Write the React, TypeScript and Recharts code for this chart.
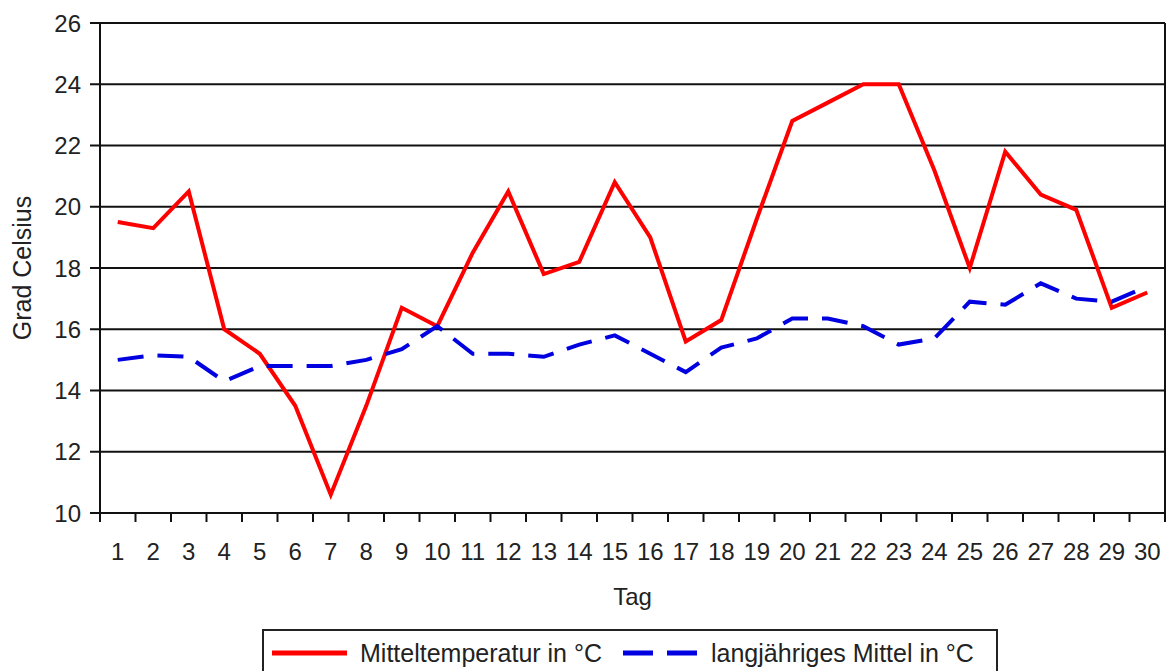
import {
  CartesianGrid,
  Legend,
  Line,
  LineChart,
  ReferenceLine,
  XAxis,
  YAxis,
} from "recharts";

// Tage des Monats
const days = [
  1, 2, 3, 4, 5, 6, 7, 8, 9, 10, 11, 12, 13, 14, 15, 16, 17, 18, 19, 20, 21,
  22, 23, 24, 25, 26, 27, 28, 29, 30,
];

// Mitteltemperatur in °C
const meanTemp = [
  19.5, 19.3, 20.5, 16.0, 15.2, 13.5, 10.6, 13.5, 16.7, 16.1, 18.5, 20.5, 17.8,
  18.2, 20.8, 19.0, 15.6, 16.3, 19.6, 22.8, 23.4, 24.0, 24.0, 21.2, 18.0, 21.8,
  20.4, 19.9, 16.7, 17.2,
];

// langjähriges Mittel in °C
const longTermMean = [
  15.0, 15.15, 15.1, 14.3, 14.8, 14.8, 14.8, 15.0, 15.35, 16.1, 15.2, 15.2,
  15.1, 15.5, 15.8, 15.2, 14.6, 15.4, 15.7, 16.35, 16.35, 16.1, 15.5, 15.7,
  16.9, 16.8, 17.5, 17.0, 16.9, 17.4,
];

const yTicks = [10, 12, 14, 16, 18, 20, 22, 24, 26];

const data = days.map((day, i) => ({
  day,
  mean: meanTemp[i],
  longTerm: longTermMean[i],
}));

const FONT = '"Liberation Sans", Arial, sans-serif';
const TEXT = "#222";
const RED = "#ff0000";
const BLUE = "#0000e0";
const PLOT_W = 1065;
const STEP = PLOT_W / days.length;

// x-axis tick: label in the middle, tick marks on the category boundaries
const DayTick = (props: any) => {
  const { x, y, payload, index } = props;
  const left = x - STEP / 2;
  const right = x + STEP / 2;
  return (
    <g>
      <line x1={left} y1={y} x2={left} y2={y + 9} stroke="#111" strokeWidth={2} />
      {index === days.length - 1 && (
        <line x1={right} y1={y} x2={right} y2={y + 9} stroke="#111" strokeWidth={2} />
      )}
      <text
        x={x}
        y={y + 47}
        textAnchor="middle"
        fontFamily={FONT}
        fontSize={24}
        fill={TEXT}
      >
        {payload.value}
      </text>
    </g>
  );
};

const LegendBox = ({ payload }: any) => {
  const items = payload || [];
  return (
    <svg width={736} height={60} style={{ display: "block" }}>
      <rect x={1} y={1} width={734} height={70} fill="#fff" stroke="#222" strokeWidth={2} />
      {items.map((item: any, i: number) => {
        const x0 = i === 0 ? 10 : 361;
        const dashed = i === 1;
        return (
          <g key={item.value}>
            <line
              x1={x0}
              y1={24}
              x2={x0 + 75}
              y2={24}
              stroke={item.color}
              strokeWidth={5}
              strokeDasharray={dashed ? "30 14" : undefined}
            />
            <text
              x={x0 + 88}
              y={33}
              fontFamily={FONT}
              fontSize={25}
              fill={TEXT}
            >
              {item.value}
            </text>
          </g>
        );
      })}
    </svg>
  );
};

export default function App() {
  return (
    <div style={{ position: "absolute", left: 0, top: 0, background: "#fff" }}>
      <LineChart
        width={1169}
        height={671}
        data={data}
        margin={{ top: 23, right: 4, bottom: 0, left: 0 }}
      >
        <CartesianGrid
          vertical={false}
          stroke="#111"
          strokeWidth={2}
          horizontalValues={yTicks}
        />
        <XAxis
          dataKey="day"
          type="number"
          domain={[0.5, 30.5]}
          ticks={days}
          interval={0}
          height={158}
          tickLine={false}
          tickSize={0}
          tickMargin={0}
          axisLine={{ stroke: "#111", strokeWidth: 2 }}
          tick={<DayTick />}
          label={{
            content: ({ viewBox }: any) => (
              <text
                x={viewBox.x + viewBox.width / 2}
                y={viewBox.y + 92}
                textAnchor="middle"
                fontFamily={FONT}
                fontSize={24}
                fill={TEXT}
              >
                Tag
              </text>
            ),
          }}
        />
        <YAxis
          domain={[10, 26]}
          ticks={yTicks}
          interval={0}
          width={100}
          tickSize={10}
          tickMargin={9}
          axisLine={{ stroke: "#111", strokeWidth: 2 }}
          tickLine={{ stroke: "#111", strokeWidth: 2 }}
          tick={{ fontFamily: FONT, fontSize: 24, fill: TEXT }}
          label={{
            content: ({ viewBox }: any) => {
              const cx = viewBox.x + 22;
              const cy = viewBox.y + viewBox.height / 2;
              return (
                <text
                  x={cx}
                  y={cy}
                  transform={`rotate(-90 ${cx} ${cy})`}
                  textAnchor="middle"
                  dominantBaseline="central"
                  fontFamily={FONT}
                  fontSize={25}
                  fill={TEXT}
                >
                  Grad Celsius
                </text>
              );
            },
          }}
        />
        <ReferenceLine x={30.5} stroke="#111" strokeWidth={2} />
        <Line
          type="linear"
          dataKey="mean"
          name="Mitteltemperatur in °C"
          stroke={RED}
          strokeWidth={4}
          dot={false}
          activeDot={false}
          isAnimationActive={false}
        />
        <Line
          type="linear"
          dataKey="longTerm"
          name="langjähriges Mittel in °C"
          stroke={BLUE}
          strokeWidth={4}
          strokeDasharray="26 14"
          dot={false}
          activeDot={false}
          isAnimationActive={false}
        />
        <Legend
          layout="horizontal"
          align="center"
          verticalAlign="middle"
          width={736}
          height={60}
          wrapperStyle={{ left: 262, top: 629, width: 736, height: 60 }}
          content={<LegendBox />}
        />
      </LineChart>
    </div>
  );
}
